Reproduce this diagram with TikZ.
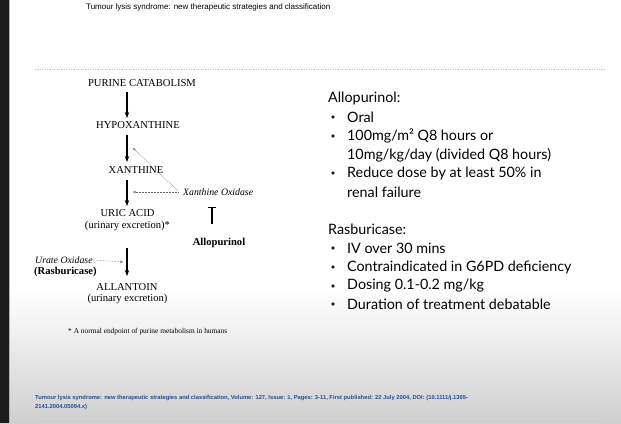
\documentclass[tikz,border=0pt]{standalone}
\usepackage{fontspec}
\setmainfont{Liberation Serif}
\newfontfamily\arialf{Liberation Sans}
\newfontfamily\gillf{Lato}
\usetikzlibrary{arrows.meta}
\definecolor{citeblue}{HTML}{1F4F9C}
\definecolor{stripc}{HTML}{1B1B1B}
\tikzset{
  chem/.style={inner sep=0pt, font=\fontsize{10.6}{11}\selectfont},
  enz/.style={inner sep=0pt, font=\fontsize{9.8}{10}\selectfont\itshape},
  bul/.style={inner sep=0pt, anchor=west, font=\gillf\fontsize{14.3}{15}\selectfont},
  dotb/.style={circle, fill=black!85, inner sep=0pt, minimum size=3.6pt},
  mainarrow/.style={line width=1.4pt, -{Stealth[length=6pt,width=4.5pt]}},
  dotarrow/.style={gray!80!black, line width=0.5pt, densely dotted, -{Stealth[length=3pt,width=2.6pt]}},
  sep/.style={gray!45, line width=0.5pt, dash pattern=on 1.2pt off 1.2pt}
}
\begin{document}
\begin{tikzpicture}[x=1pt,y=-1pt]
\useasboundingbox (0,0) rectangle (621,423);
% background
\fill[white] (0,0) rectangle (621,423);
\shade[top color=white, bottom color=black!19] (0,290) rectangle (621,423);
\fill[stripc] (0,0) rectangle (9,423);
\fill[gray!60] (9,0) rectangle (10,423);
% header
\node[inner sep=0pt, anchor=west, font=\arialf\fontsize{8}{9}\selectfont] (title) at (86,7) {Tumour lysis syndrome: new therapeutic strategies and classification};
\coordinate (s1a) at (35,69); \coordinate (s1b) at (606,69);
\draw[sep] (s1a) -- (s1b);
% pathway
\node[chem] (pur) at (142,83) {PURINE CATABOLISM};
\node[chem] (hyp) at (138,125) {HYPOXANTHINE};
\node[chem] (xan) at (136,170) {XANTHINE};
\node[chem] (uric) at (127.5,213) {URIC ACID};
\node[chem] (uricx) at (127.5,226) {(urinary excretion)*};
\node[chem] (all) at (127,287) {ALLANTOIN};
\node[chem] (allx) at (127.5,299) {(urinary excretion)};
\coordinate (a1s) at (127,92);  \coordinate (a1e) at (127,118);
\coordinate (a2s) at (127,135); \coordinate (a2e) at (127,162);
\coordinate (a3s) at (127,180); \coordinate (a3e) at (127,206);
\coordinate (a4s) at (127,248); \coordinate (a4e) at (127,276);
\draw[mainarrow] (a1s) -- (a1e);
\draw[mainarrow] (a2s) -- (a2e);
\draw[mainarrow] (a3s) -- (a3e);
\draw[mainarrow] (a4s) -- (a4e);
% xanthine oxidase
\node[enz, anchor=west] (xo) at (183,192) {Xanthine Oxidase};
\coordinate (xo1) at (133,192);
\coordinate (xo2) at (133,148);
\coordinate (xoc) at (178,191);
\draw[dotarrow, shorten <=5pt] (xo.west) -- (xo1);
\draw[dotarrow] (xoc) -- (xo2);
% allopurinol
\node[inner sep=0pt, font=\fontsize{10.6}{11}\selectfont\bfseries] (allo) at (219,243) {Allopurinol};
\coordinate (tb) at (212,207);
\draw[line width=1.4pt, -{Bar[width=8pt,line width=1.4pt]}] (212,224) -- (tb);
% urate oxidase
\node[enz, anchor=west] (uo) at (35,260) {Urate Oxidase};
\node[inner sep=0pt, anchor=west, font=\fontsize{10.6}{11}\selectfont\bfseries] (ras) at (34,272) {(Rasburicase)};
\coordinate (uo1) at (123,262);
\draw[dotarrow] (uo.east) -- (uo1);
% footnote
\node[inner sep=0pt, anchor=west, font=\fontsize{7.4}{8}\selectfont] (foot) at (68,332) {* A normal endpoint of purine metabolism in humans};
% right text
\node[bul] (t1) at (328,98) {Allopurinol:};
\foreach \y/\t/\n in {117/Oral/b1, 136/{100mg/m² Q8 hours or}/b2, 173/{Reduce dose by at least 50\% in}/b4}{
  \node[bul] (\n) at (347,\y) {\t};
  \node[dotb] (\n d) at (333,\y) {};
}
\node[bul] (b3) at (347,155) {10mg/kg/day (divided Q8 hours)};
\node[bul] (b5) at (347,192) {renal failure};
\node[bul] (t2) at (328,229) {Rasburicase:};
\foreach \y/\t/\n in {248/{IV over 30 mins}/r1, 267/{Contraindicated in G6PD deficiency}/r2, 286/{Dosing 0.1-0.2 mg/kg}/r3, 304/{Duration of treatment debatable}/r4}{
  \node[bul] (\n) at (347,\y) {\t};
  \node[dotb] (\n d) at (333,\y) {};
}
% citation
\node[inner sep=0pt, anchor=west, text=citeblue, font=\arialf\bfseries\fontsize{5.8}{6}\selectfont] (cite1) at (35,398) {Tumour lysis syndrome: new therapeutic strategies and classification, Volume: 127, Issue: 1, Pages: 3-11, First published: 22 July 2004, DOI: (10.1111/j.1365-};
\node[inner sep=0pt, anchor=west, text=citeblue, font=\arialf\bfseries\fontsize{5.8}{6}\selectfont] (cite2) at (35,407) {2141.2004.05094.x)};
\coordinate (s2a) at (35,421.5); \coordinate (s2b) at (606,421.5);
\draw[sep] (s2a) -- (s2b);
\end{tikzpicture}
\end{document}
